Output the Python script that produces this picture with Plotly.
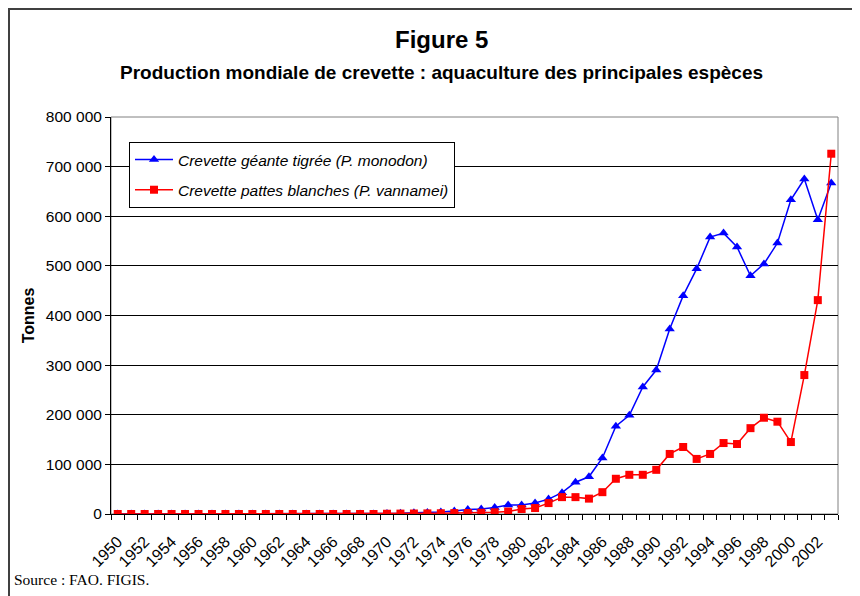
import plotly.graph_objects as go

years = list(range(1950, 2004))

monodon = [0]*20 + [
    1000, 1500, 2500, 3000, 4000, 6000, 9000, 10000, 13000,          # 1970-1978
    18000, 18000, 22000, 30000, 43000, 64000, 75000, 113000, 177000,  # 1979-1987
    199000, 256000, 290000, 373000, 440000, 494000, 558000, 566000,   # 1988-1995
    538000, 480000, 504000, 546000, 633000, 675000, 593000, 667000]   # 1996-2003

vannamei = [0]*20 + [
    500, 800, 1000, 1200, 1500, 1800, 2000, 2500, 3500,               # 1970-1978
    5000, 10000, 12000, 22000, 34000, 34000, 31000, 44000, 71000,     # 1979-1987
    79000, 79000, 89000, 121000, 135000, 111000, 121000, 143000,      # 1988-1995
    141000, 173000, 194000, 186000, 145000, 280000, 431000, 726000]   # 1996-2003

tick_years = list(range(1950, 2003, 2))
tick_labels = [str(y) for y in tick_years]
y_ticks = list(range(0, 800001, 100000))

name_a = "<i>Crevette géante tigrée (P. monodon)</i>"
name_b = "<i>Crevette pattes blanches (P. vannamei)</i>"

fig = go.Figure()
fig.add_trace(go.Scatter(x=years, y=monodon, name=name_a, mode="lines+markers",
                         legendgroup="a",
                         line=dict(color="#0000FF", width=1.5),
                         marker=dict(symbol="triangle-up", size=9, color="#0000FF")))
fig.add_trace(go.Scatter(x=years, y=vannamei, name=name_b, mode="lines+markers",
                         legendgroup="b",
                         line=dict(color="#FF0000", width=1.5),
                         marker=dict(symbol="square", size=8, color="#FF0000")))

OFF = 8  # page body margin
W, H = 860 - OFF, 596 - OFF
# plot area in page coordinates
PL, PR, PT, PB = 111, 838, 117, 514
L, R, T, B = PL - OFF, W - (PR - OFF), PT - OFF, H - (PB - OFF)
pw, ph = PR - PL, PB - PT

def px(x):
    return (x - PL) / pw

def py(y):
    return (PB - y) / ph

FONT = "Liberation Sans, Arial, sans-serif"

fig.update_layout(
    width=W, height=H,
    margin=dict(l=L, r=R, t=T, b=B, pad=0),
    paper_bgcolor="white", plot_bgcolor="white",
    separators=", ",
    font=dict(family=FONT, color="black", size=15),
    showlegend=True,
    legend=dict(x=px(129), y=py(142), xanchor="left", yanchor="top",
                bgcolor="white", bordercolor="black", borderwidth=1,
                font=dict(size=15.5), itemwidth=38, tracegroupgap=7,
                traceorder="grouped"),
    xaxis=dict(range=[1949.5, 2003.5], tickmode="array", tickvals=tick_years,
               ticktext=tick_labels, tickangle=-45, ticks="outside", ticklen=11,
               tickcolor="rgba(0,0,0,0)", showgrid=False,
               showline=True, linecolor="black", linewidth=1, zeroline=False,
               tickfont=dict(size=16),
               minor=dict(tickmode="linear", tick0=1949.5, dtick=1, ticks="outside",
                          ticklen=5, tickcolor="black", showgrid=False)),
    yaxis=dict(range=[0, 800000], tickmode="array", tickvals=y_ticks, tickformat=",d",
               ticks="outside", ticklen=5, tickcolor="black", showgrid=True,
               gridcolor="black", gridwidth=1, showline=True, linecolor="black",
               linewidth=1, zeroline=False, tickfont=dict(size=15.5),
               title=dict(text="<b>Tonnes</b>", font=dict(size=16), standoff=7)),
    shapes=[
        dict(type="rect", xref="paper", yref="paper", x0=0, x1=1, y0=0, y1=1,
             line=dict(color="#808080", width=1), layer="below"),
        dict(type="path", xref="paper", yref="paper",
             path=f"M {px(9)} {py(620)} L {px(9)} {py(9)} L {px(900)} {py(9)}",
             line=dict(color="#404040", width=2)),
    ],
    annotations=[
        dict(text="<b>Figure 5</b>", x=px(441), y=py(40), xref="paper", yref="paper",
             showarrow=False, font=dict(size=24), xanchor="center", yanchor="middle"),
        dict(text="<b>Production mondiale de crevette : aquaculture des principales espèces</b>",
             x=px(441), y=py(72), xref="paper", yref="paper", showarrow=False,
             font=dict(size=19), xanchor="center", yanchor="middle"),
        dict(text="Source : FAO. FIGIS.", x=px(12), y=py(579), xref="paper", yref="paper",
             showarrow=False, font=dict(size=15.5, family="Liberation Serif, Times New Roman, serif"),
             xanchor="left", yanchor="middle"),
    ],
)

fig.write_html("out.html")
